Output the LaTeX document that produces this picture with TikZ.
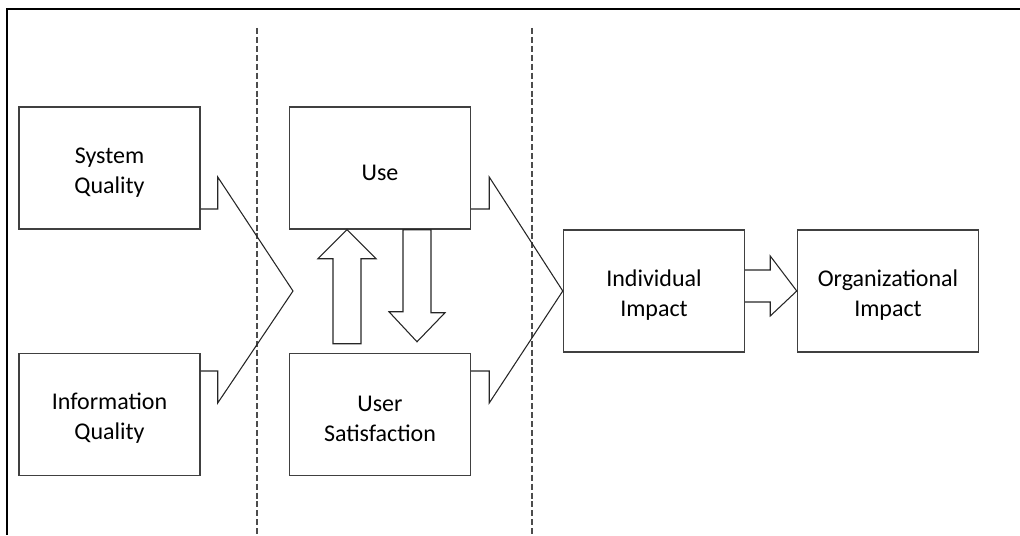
\documentclass[tikz,border=0pt]{standalone}
\usepackage{fontspec}
\setmainfont{Carlito}
\usetikzlibrary{calc}
\newcommand{\boxtop}{\rule{0pt}{18.5pt}}

\begin{document}
\begin{tikzpicture}[x=0.75pt,y=-0.75pt,
    box/.style={draw=black!75,line width=1.1pt,minimum width=135.75pt,minimum height=91.5pt,
        align=center,font=\fontsize{18}{22.5}\selectfont,inner sep=0pt},
    blockarrow/.style={draw=black!85,line width=0.8pt,line join=miter},
    divider/.style={draw=black!70,line width=1.1pt,dash pattern=on 4.5pt off 2.2pt}]
    \useasboundingbox (0,0) rectangle (1020,535);
    \draw[line width=1.5pt] (1020,9) -- (7,9) -- (7,535);

    \node[box] (sq) at (109.5,168) {\boxtop System\\Quality};
    \node[box] (iq) at (109.5,414.5) {\boxtop Information\\Quality};
    \node[box] (use) at (380,168) {\boxtop Use};
    \node[box] (us) at (380,414.5) {\boxtop User\\Satisfaction};
    \node[box] (ii) at (654,291) {\boxtop Individual\\Impact};
    \node[box] (oi) at (888,291) {\boxtop Organizational\\Impact};
    \coordinate (tip1) at (293,291);

    \draw[divider] (257,28) -- (257,535);
    \draw[divider] (532,28) -- (532,535);

    % chevrons
    \draw[blockarrow] ($(sq.east)+(0,41)$) -- ++(17,0) -- ++(0,-32) -- (tip1)
        -- ($(iq.east)+(17,-11.5)$) -- ++(0,-32) -- ++(-17,0);
    \draw[blockarrow] ($(use.east)+(0,41)$) -- ++(18,0) -- ++(0,-32) -- (ii.west)
        -- ($(us.east)+(18,-11.5)$) -- ++(0,-32) -- ++(-18,0);

    % block arrows
    \draw[blockarrow] ($(ii.east)+(0,-21)$) -- ++(25,0) -- ++(0,-14) -- (oi.west)
        -- ($(ii.east)+(25,25)$) -- ++(0,-14) -- ++(-25,0);
    \draw[blockarrow] ($(use.south)+(-33,0)$) -- ++(29,29) -- ++(-15,0) -- ++(0,85)
        -- ++(-28,0) -- ++(0,-85) -- ++(-15,0) -- cycle;
    \draw[blockarrow] ($(use.south)+(23,0)$) -- ++(28,0) -- ++(0,83) -- ++(14,0)
        -- ($(us.north)+(37,-11)$) -- ++(-28,-30) -- ++(14,0) -- cycle;
\end{tikzpicture}
\end{document}
